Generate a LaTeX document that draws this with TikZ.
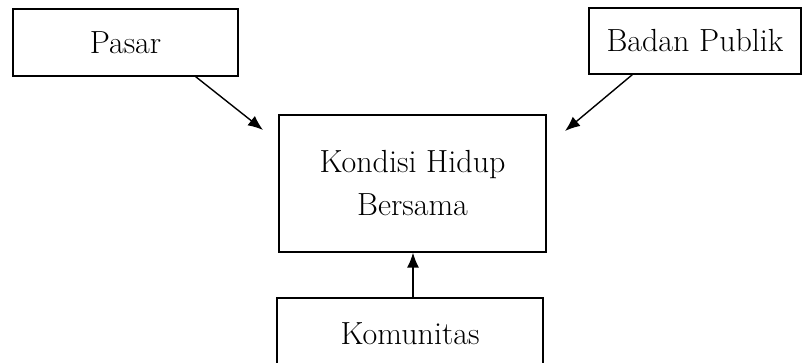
\documentclass[tikz,border=0pt]{standalone}
\usepackage{fontspec}
\usetikzlibrary{arrows.meta}
\begin{document}
\begin{tikzpicture}[x=1pt,y=-1pt,
    kotak/.style={draw, line width=1.3pt, inner sep=0pt, align=center,
      font=\fontsize{32}{43}\selectfont},
    panah/.style={-{Latex[length=15pt,width=12pt]}, line width=1.4pt}]
    \useasboundingbox (0,0) rectangle (802,363);
    \node[kotak, minimum width=225pt, minimum height=67pt] (pasar) at (125.5,42.5) {Pasar};
    \node[kotak, minimum width=212pt, minimum height=66pt] (badan) at (695,41) {Badan Publik};
    \node[kotak, minimum width=267pt, minimum height=137pt] (kondisi) at (412.5,183.5) {Kondisi Hidup\\Bersama};
    \node[kotak, minimum width=266pt, minimum height=72pt] (komunitas) at (410,334) {Komunitas};
    \coordinate (ujungpasar) at (263,130);
    \coordinate (ujungbadan) at (565,131);
    \draw[panah] ([xshift=-43pt]pasar.south east) -- (ujungpasar);
    \draw[panah] ([xshift=44pt]badan.south west) -- (ujungbadan);
    \draw[panah] ([xshift=3pt]komunitas.north) -- ([xshift=3pt]komunitas.north |- kondisi.south);
\end{tikzpicture}
\end{document}
